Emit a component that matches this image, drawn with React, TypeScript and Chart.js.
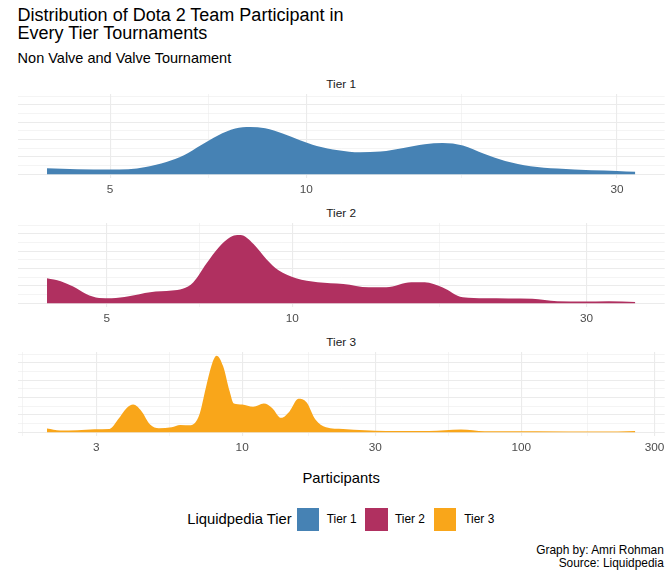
import { useEffect, useRef } from 'react';
import { Chart, registerables } from 'chart.js';

Chart.register(...registerables);

const tier1Participants = [4.0, 4.45, 5.0, 5.33, 5.67, 6.1, 6.49, 6.89, 7.32, 7.78, 8.2, 8.65, 9.2, 9.78, 10.38, 11.2, 12.1, 13.0, 14.1, 15.2, 16.2, 17.4, 18.7, 20.2, 22.1, 24.3, 27.4, 30, 32];
const tier1Density = [0.069, 0.058, 0.054, 0.058, 0.084, 0.141, 0.218, 0.332, 0.446, 0.525, 0.544, 0.528, 0.468, 0.392, 0.326, 0.277, 0.253, 0.261, 0.302, 0.345, 0.359, 0.33, 0.238, 0.152, 0.092, 0.065, 0.046, 0.038, 0.027];

const tier2Participants = [4.0, 4.21, 4.41, 4.63, 4.86, 5.09, 5.43, 5.88, 6.38, 6.64, 6.91, 7.25, 7.6, 8.04, 8.24, 8.65, 9.07, 9.51, 10.14, 10.99, 12.1, 13.3, 14.2, 15.6, 16.4, 17.5, 18.9, 20.5, 24.5, 26.9, 29.6, 32.6, 36];
const tier2Density = [0.288, 0.253, 0.192, 0.107, 0.061, 0.058, 0.081, 0.127, 0.146, 0.165, 0.242, 0.453, 0.644, 0.779, 0.786, 0.683, 0.51, 0.376, 0.288, 0.242, 0.222, 0.184, 0.184, 0.242, 0.242, 0.184, 0.069, 0.058, 0.05, 0.023, 0.019, 0.023, 0.015];

const tier3Participants = [2.0, 2.23, 2.57, 2.96, 3.35, 3.59, 3.86, 4.07, 4.36, 4.68, 5.03, 5.59, 6.0, 6.55, 7.03, 7.41, 7.82, 8.1, 8.55, 9.02, 9.34, 10.0, 10.95, 11.96, 12.8, 13.8, 14.8, 15.9, 17.0, 18.3, 19.96, 23.0, 27.5, 32.8, 46.7, 60.8, 73.9, 113, 192, 256];
const tier3Density = [0.042, 0.019, 0.023, 0.035, 0.038, 0.146, 0.28, 0.318, 0.242, 0.088, 0.046, 0.058, 0.084, 0.081, 0.203, 0.51, 0.798, 0.882, 0.76, 0.472, 0.33, 0.318, 0.292, 0.33, 0.28, 0.165, 0.242, 0.384, 0.345, 0.146, 0.058, 0.038, 0.023, 0.015, 0.015, 0.031, 0.012, 0.012, 0.008, 0.015];

const tier1Breaks = [5, 10, 30];
const tier1MinorBreaks = [7.07, 17.3];
const tier2Breaks = [5, 10, 30];
const tier2MinorBreaks = [7.07, 17.3];
const tier3Breaks = [3, 10, 30, 100, 300];
const tier3MinorBreaks = [1.64, 5.48, 17.3, 54.8, 173];

const densityBreaks = [0, 0.2, 0.4, 0.6, 0.8];
const densityMinorBreaks = [0.1, 0.3, 0.5, 0.7, 0.9];

const tierNames = ['Tier 1', 'Tier 2', 'Tier 3'];
const tierColors = ['#4682B4', '#B03060', '#F9A61A'];

const FONT = '"Liberation Sans", Arial, Helvetica, sans-serif';
const GRID = '#EBEBEB';

Chart.defaults.font.family = FONT;

const PANEL_LEFT = 17.6;
const PANEL_RIGHT = 7.3;
const PANEL_H = 84;
const AXIS_H = 24;

function expandLog(lo: number, hi: number) {
  const a = Math.log10(lo);
  const b = Math.log10(hi);
  const e = (b - a) * 0.05;
  return [Math.pow(10, a - e), Math.pow(10, b + e)];
}

interface PanelProps {
  xs: number[];
  ys: number[];
  breaks: number[];
  minor: number[];
  color: string;
  top: number;
}

function DensityPanel({ xs, ys, breaks, minor, color, top }: PanelProps) {
  const canvasRef = useRef<HTMLCanvasElement>(null);

  useEffect(() => {
    if (!canvasRef.current) return;
    const [xmin, xmax] = expandLog(xs[0], xs[xs.length - 1]);
    const isMajor = (v: number) => breaks.some((b) => Math.abs(b - v) < 1e-6);
    const yIsMajor = (v: number) => densityBreaks.some((b) => Math.abs(b - v) < 1e-6);

    const chart = new Chart(canvasRef.current, {
      type: 'line',
      data: {
        datasets: [
          {
            data: xs.map((x, i) => ({ x, y: ys[i] })),
            fill: 'origin',
            backgroundColor: color,
            borderColor: color,
            borderWidth: 0,
            pointRadius: 0,
            cubicInterpolationMode: 'monotone',
          },
        ],
      },
      options: {
        responsive: false,
        animation: false,
        layout: { padding: { left: PANEL_LEFT, right: PANEL_RIGHT, top: 0, bottom: 0 } },
        plugins: { legend: { display: false }, tooltip: { enabled: false } },
        scales: {
          x: {
            type: 'logarithmic',
            min: xmin,
            max: xmax,
            border: { display: false },
            afterBuildTicks: (axis) => {
              axis.ticks = [...breaks, ...minor]
                .filter((v) => v >= xmin && v <= xmax)
                .sort((a, b) => a - b)
                .map((value) => ({ value }));
            },
            afterFit: (axis) => {
              axis.height = AXIS_H;
            },
            grid: {
              color: GRID,
              drawTicks: false,
              lineWidth: (ctx) => (isMajor(ctx.tick?.value) ? 1.1 : 0.55),
            },
            ticks: {
              autoSkip: false,
              maxRotation: 0,
              padding: 4.5,
              color: '#4D4D4D',
              font: { size: 11.8, family: FONT },
              callback: (value) => (isMajor(Number(value)) ? String(value) : ''),
            },
          },
          y: {
            min: -0.044,
            max: 0.924,
            border: { display: false },
            afterBuildTicks: (axis) => {
              axis.ticks = [...densityBreaks, ...densityMinorBreaks]
                .sort((a, b) => a - b)
                .map((value) => ({ value }));
            },
            afterFit: (axis) => {
              axis.width = 0;
            },
            grid: {
              color: GRID,
              drawTicks: false,
              lineWidth: (ctx) => (yIsMajor(ctx.tick?.value) ? 1.1 : 0.55),
            },
            ticks: { display: false },
          },
        },
      },
    });

    return () => {
      chart.destroy();
    };
  }, [xs, ys, breaks, minor, color]);

  return (
    <canvas
      ref={canvasRef}
      width={672}
      height={PANEL_H + AXIS_H}
      style={{ position: 'absolute', left: 0, top, width: 672, height: PANEL_H + AXIS_H }}
    />
  );
}

const panelTops = [93.8, 222.8, 351.8];

export default function App() {
  const text = (extra: React.CSSProperties): React.CSSProperties => ({
    position: 'absolute',
    lineHeight: 1,
    whiteSpace: 'nowrap',
    fontFamily: FONT,
    ...extra,
  });

  const panels = [
    { xs: tier1Participants, ys: tier1Density, breaks: tier1Breaks, minor: tier1MinorBreaks },
    { xs: tier2Participants, ys: tier2Density, breaks: tier2Breaks, minor: tier2MinorBreaks },
    { xs: tier3Participants, ys: tier3Density, breaks: tier3Breaks, minor: tier3MinorBreaks },
  ];

  const keyLefts = [296.7, 365, 433.7];
  const labelLefts = [326.7, 395, 464.3];

  return (
    <div style={{ position: 'fixed', left: 0, top: 0, width: 672, height: 576, background: '#fff', overflow: 'hidden' }}>
      <div style={text({ left: 17.6, top: 5.5, fontSize: 18, lineHeight: '18.4px', color: '#000' })}>
        Distribution of Dota 2 Team Participant in
        <br />
        Every Tier Tournaments
      </div>
      <div style={text({ left: 17.6, top: 51, fontSize: 14.5, color: '#000' })}>Non Valve and Valve Tournament</div>

      {panels.map((p, i) => (
        <div key={tierNames[i]}>
          <div
            style={text({
              left: PANEL_LEFT,
              width: 672 - PANEL_LEFT - PANEL_RIGHT,
              textAlign: 'center',
              top: panelTops[i] - 8.9 - 5.9,
              fontSize: 11.8,
              color: '#1A1A1A',
            })}
          >
            {tierNames[i]}
          </div>
          <DensityPanel {...p} color={tierColors[i]} top={panelTops[i]} />
        </div>
      ))}

      <div
        style={text({
          left: PANEL_LEFT,
          width: 672 - PANEL_LEFT - PANEL_RIGHT,
          textAlign: 'center',
          top: 478.3 - 7.4,
          fontSize: 14.8,
          color: '#000',
        })}
      >
        Participants
      </div>

      <div style={text({ left: 187.3, top: 519.7 - 7.4, fontSize: 14.8, color: '#000' })}>Liquidpedia Tier</div>
      {tierNames.map((name, i) => (
        <div key={name}>
          <div
            style={{
              position: 'absolute',
              left: keyLefts[i],
              top: 508.4,
              width: 22.6,
              height: 22.6,
              background: tierColors[i],
            }}
          />
          <div style={text({ left: labelLefts[i], top: 519.7 - 5.95, fontSize: 11.9, color: '#000' })}>{name}</div>
        </div>
      ))}

      <div
        style={text({
          right: 672 - 663.8,
          top: 550 - 5.95,
          fontSize: 11.9,
          lineHeight: '12.7px',
          textAlign: 'right',
          color: '#000',
        })}
      >
        Graph by: Amri Rohman
        <br />
        Source: Liquidpedia
      </div>
    </div>
  );
}
